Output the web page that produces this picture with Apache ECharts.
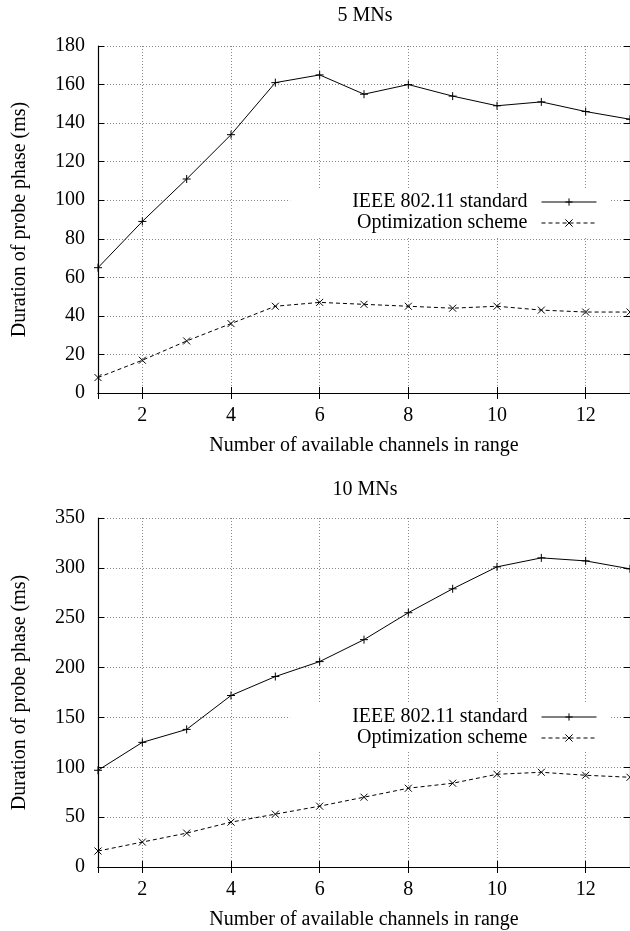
<!DOCTYPE html>
<html>
<head>
<meta charset="utf-8">
<script src="https://cdn.jsdelivr.net/npm/echarts@6/dist/echarts.min.js"></script>
<style>
  html, body { margin: 0; padding: 0; background: #fff; }
  #chart { width: 630px; height: 931px; }
</style>
</head>
<body>
<div id="chart"></div>
<script>
// x values: number of channels
var channels = [1, 2, 3, 4, 5, 6, 7, 8, 9, 10, 11, 12, 13];

// 5 MNs
var ieee5 = [65, 89, 111, 134, 161, 165, 155, 160, 154, 149, 151, 146, 142];
var opt5 = [8, 17, 27, 36, 45, 47, 46, 45, 44, 45, 43, 42, 42];

// 10 MNs
var ieee10 = [97, 125, 138, 172, 191, 206, 228, 255, 279, 301, 310, 307, 299];
var opt10 = [16, 25, 34, 45, 53, 61, 70, 79, 84, 93, 95, 92, 90];

var titles = ['5 MNs', '10 MNs'];
var seriesNames = ['IEEE 802.11 standard', 'Optimization scheme'];
var yMax = [180, 350];
var yStep = [20, 50];

var font = 'Liberation Serif';
var myChart = echarts.init(document.getElementById('chart'));

function pairs(ys) {
    return channels.map(function (x, i) { return [x, ys[i]]; });
}

var gridTops = [46, 518];
var gridH = [347, 349];
var titleTops = [6, 480];
var legendTops = [188, 703];

var grids = [], xAxes = [], yAxes = [], legends = [], titleList = [];
var dataSets = [[ieee5, opt5], [ieee10, opt10]];
var series = [];

for (var g = 0; g < 2; g++) {
    grids.push({ left: 98, top: gridTops[g], width: 534, height: gridH[g] });
    titleList.push({
        text: titles[g], left: 365, top: titleTops[g], textAlign: 'center', padding: 0,
        textStyle: { fontFamily: font, fontSize: 20, fontWeight: 'normal', color: '#000' }
    });
    // bottom x axis
    xAxes.push({
        type: 'value', gridIndex: g, min: 1, max: 13, splitNumber: 6,
        name: 'Number of available channels in range', nameLocation: 'middle', nameGap: 43,
        nameTextStyle: { fontFamily: font, fontSize: 20, color: '#000' },
        axisLine: { lineStyle: { color: '#000', width: 1.2 } },
        axisTick: { inside: true, length: 6, lineStyle: { color: '#000' } },
        axisLabel: { fontFamily: font, fontSize: 20, color: '#000', margin: 13, showMinLabel: false, showMaxLabel: false },
        splitLine: { show: true, lineStyle: { color: '#888', type: [1, 2], width: 1 } }
    });
    // top mirror
    xAxes.push({
        type: 'value', gridIndex: g, min: 1, max: 13, splitNumber: 6, position: 'top',
        axisLine: { lineStyle: { color: '#000', width: 1.2 } },
        axisTick: { inside: true, length: 6, lineStyle: { color: '#000' } },
        axisLabel: { show: false }, splitLine: { show: false }
    });
    // left y axis
    yAxes.push({
        type: 'value', gridIndex: g, min: 0, max: yMax[g], interval: yStep[g],
        name: 'Duration of probe phase (ms)', nameLocation: 'middle', nameGap: 68,
        nameTextStyle: { fontFamily: font, fontSize: 20, color: '#000' },
        axisLine: { show: true, lineStyle: { color: '#000', width: 1.2 } },
        axisTick: { show: true, inside: true, length: 6, lineStyle: { color: '#000' } },
        axisLabel: { fontFamily: font, fontSize: 20, color: '#000', margin: 13 },
        splitLine: { show: true, lineStyle: { color: '#888', type: [1, 2], width: 1 } }
    });
    // right mirror
    yAxes.push({
        type: 'value', gridIndex: g, min: 0, max: yMax[g], interval: yStep[g], position: 'right',
        axisLine: { show: true, lineStyle: { color: '#000', width: 1.2 } },
        axisTick: { show: true, inside: true, length: 6, lineStyle: { color: '#000' } },
        axisLabel: { show: false }, splitLine: { show: false }
    });

    series.push({
        name: seriesNames[0], type: 'line', xAxisIndex: g * 2, yAxisIndex: g * 2,
        data: pairs(dataSets[g][0]),
        symbol: 'path://M0,5L10,5M5,0L5,10', symbolSize: 8,
        lineStyle: { color: '#000', width: 1, type: 'solid' },
        itemStyle: { color: 'transparent', borderColor: '#000', borderWidth: 1 },
        animation: false
    });
    series.push({
        name: seriesNames[1], type: 'line', xAxisIndex: g * 2, yAxisIndex: g * 2,
        data: pairs(dataSets[g][1]),
        symbol: 'path://M0,0L10,10M10,0L0,10', symbolSize: 7,
        lineStyle: { color: '#000', width: 1, type: [4, 3] },
        itemStyle: { color: 'transparent', borderColor: '#000', borderWidth: 1 },
        animation: false
    });

    legends.push({
        data: seriesNames, orient: 'vertical', align: 'right',
        right: 20, top: legendTops[g],
        padding: [4, 13, 3, 62], itemGap: 1, itemWidth: 55, itemHeight: 9,
        backgroundColor: '#fff',
        selectedMode: false,
        lineStyle: { width: 1 },
        itemStyle: { borderWidth: 1 },
        textStyle: { fontFamily: font, fontSize: 20, color: '#000', padding: [0, 9, 0, 0] }
    });
}

myChart.setOption({
    backgroundColor: '#fff',
    animation: false,
    title: titleList,
    legend: legends,
    grid: grids,
    xAxis: xAxes,
    yAxis: yAxes,
    series: series
});
</script>
</body>
</html>
